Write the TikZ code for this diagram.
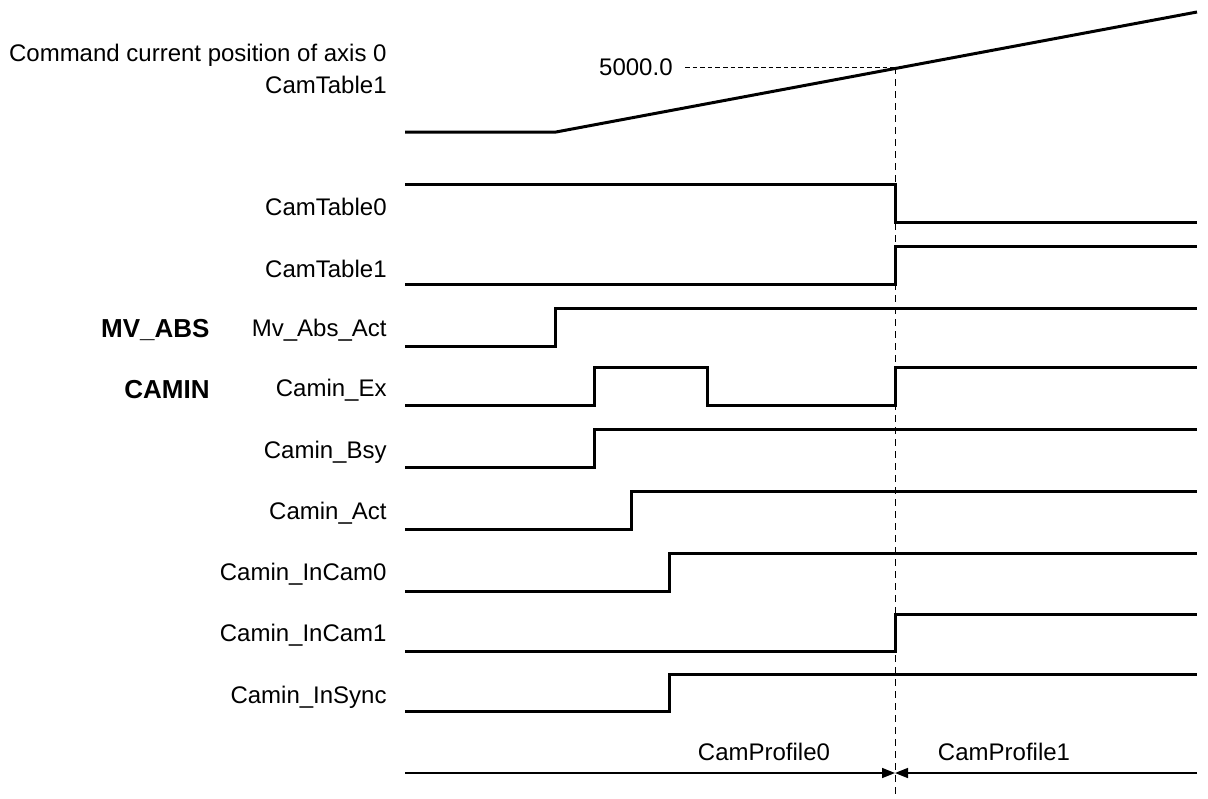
\documentclass[tikz,border=0pt]{standalone}
\usepackage{fontspec}
\setmainfont{Liberation Sans}
\usetikzlibrary{arrows.meta}
\begin{document}
\begin{tikzpicture}[x=0.5pt,y=-0.5pt,
  sig/.style={line width=1.5pt,line join=miter},
  hguide/.style={line width=0.5pt,dash pattern=on 2.3pt off 1.5pt},
  vguide/.style={line width=0.5pt,dash pattern=on 3.5pt off 2.5pt},
  lbl/.style={anchor=east,inner sep=0pt,font=\fontsize{12}{14}\selectfont},
  grp/.style={anchor=east,inner sep=0pt,font=\fontsize{13}{15}\bfseries\selectfont},
  prof/.style={line width=0.8pt},
  tip/.style={-{Triangle[length=6.5pt,width=5pt]}}]
\useasboundingbox (0,0) rectangle (1208,798);
% labels
\node[lbl] (cmd) at (387,55) {Command current position of axis 0};
\node[lbl] (ct1a) at (387,85) {CamTable1};
\node[lbl] (l1) at (387,207) {CamTable0};
\node[lbl] (l2) at (387,269) {CamTable1};
\node[lbl] (l3) at (387,330) {Mv\_Abs\_Act};
\node[lbl] (l4) at (387,390) {Camin\_Ex};
\node[lbl] (l5) at (387,452) {Camin\_Bsy};
\node[lbl] (l6) at (387,513) {Camin\_Act};
\node[lbl] (l7) at (387,574) {Camin\_InCam0};
\node[lbl] (l8) at (387,635) {Camin\_InCam1};
\node[lbl] (l9) at (387,697) {Camin\_InSync};
\node[grp] (g1) at (210,330) {MV\_ABS};
\node[grp] (g2) at (210,390) {CAMIN};
% position trace
\coordinate (p5000) at (895,67);
\coordinate (d0) at (685,67);
\node[lbl] (v5000) at (673,67) {5000.0};
\draw[hguide] (d0) -- (p5000);
\draw[vguide] (p5000) -- (895,798);
\draw[sig] (405,132) -- (556,132) -- (1197,12);
% signals
\draw[sig] (405,184) -- (895,184) -- (895,222) -- (1197,222);
\draw[sig] (405,284) -- (895,284) -- (895,246) -- (1197,246);
\draw[sig] (405,346) -- (555,346) -- (555,308) -- (1197,308);
\draw[sig] (405,405) -- (594,405) -- (594,367) -- (707,367) -- (707,405) -- (895,405) -- (895,367) -- (1197,367);
\draw[sig] (405,467) -- (594,467) -- (594,429) -- (1197,429);
\draw[sig] (405,529) -- (631,529) -- (631,491) -- (1197,491);
\draw[sig] (405,591) -- (669,591) -- (669,553) -- (1197,553);
\draw[sig] (405,651) -- (895,651) -- (895,614) -- (1197,614);
\draw[sig] (405,711) -- (669,711) -- (669,674) -- (1197,674);
% profiles
\coordinate (a0) at (405,773);
\coordinate (am) at (895,773);
\coordinate (a1) at (1197,773);
\draw[prof,tip] (a0) -- (am);
\draw[prof,tip] (a1) -- (am);
\node[font=\fontsize{12}{14}\selectfont,inner sep=0pt] (cp0) at (764,752) {CamProfile0};
\node[font=\fontsize{12}{14}\selectfont,inner sep=0pt] (cp1) at (1004,752) {CamProfile1};
\end{tikzpicture}
\end{document}
